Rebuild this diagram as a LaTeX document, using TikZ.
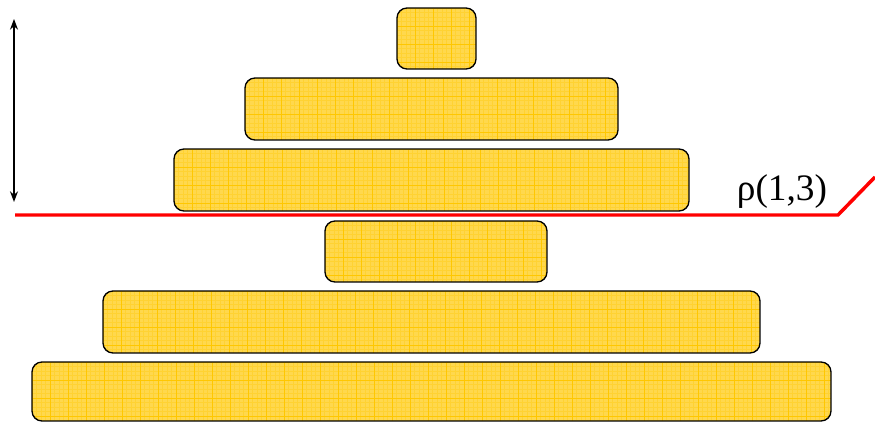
\documentclass[tikz,border=0pt]{standalone}
\usepackage{fontspec}
\setmainfont{Liberation Serif}
\usetikzlibrary{arrows.meta}
\definecolor{tile}{HTML}{FFD84D}
\definecolor{tileline}{HTML}{FFC700}

\begin{document}
\begin{tikzpicture}[x=0.75pt, y=-0.75pt, thick,
  slab/.style={draw=black, line width=1pt, rounded corners=7.5pt},
  cut/.style={red, line width=2.6pt}]
  \useasboundingbox (0,0) rectangle (875,423);

  % slabs, top to bottom
  \foreach \xa/\ya/\xb/\yb in {397/8/476/69, 245/78/618/140, 174/149/689/211,
                               325/221/547/282, 103/291/760/353, 32/362/831/421}{
    \begin{scope}
      \clip[rounded corners=7.5pt] (\xa,\ya) rectangle (\xb,\yb);
      \fill[tile] (\xa,\ya) rectangle (\xb,\yb);
      \begin{scope}[shift={(\xa,\ya)}]
        \draw[tileline!35!tile, line width=0.15pt, step=3.375pt] (0,0) grid (\xb-\xa,\yb-\ya);
        \draw[tileline, line width=0.5pt, step=13.5pt] (0,0) grid (\xb-\xa,\yb-\ya);
      \end{scope}
    \end{scope}
    \draw[slab] (\xa,\ya) rectangle (\xb,\yb);
  }

  \coordinate (cutL) at (15,215);
  \coordinate (cutK) at (838,215);
  \coordinate (cutR) at (875,177);
  \draw[cut] (cutL) -- (cutK) -- (cutR);
  \node[font=\fontsize{28}{30}\selectfont] (rho) at (782,192) {ρ(1,3)};

  \coordinate (hTop) at (14,19);
  \coordinate (hBot) at (14,202);
  \draw[{Stealth[length=8pt,width=6pt]}-{Stealth[length=8pt,width=6pt]}, line width=1pt] (hTop) -- (hBot);
\end{tikzpicture}
\end{document}
